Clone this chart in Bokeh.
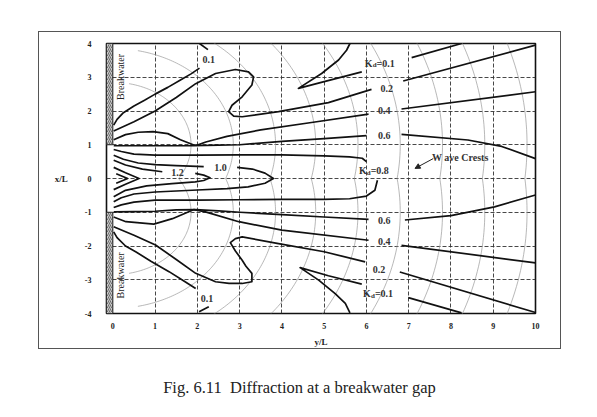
import numpy as np
from bokeh.plotting import figure
from bokeh.layouts import column
from bokeh.models import Range1d, FixedTicker, Arrow, NormalHead, Div
from bokeh.core.properties import value
from bokeh.embed import file_html
from bokeh.resources import INLINE

# ---------------- data ----------------
x_ticks = [0, 1, 2, 3, 4, 5, 6, 7, 8, 9, 10]
y_ticks = [-4, -3, -2, -1, 0, 1, 2, 3, 4]
y_tick_labels = {-4: "-4", -3: "-3", -2: "-2", -1: "-1", 0: "0", 1: "1", 2: "2", 3: "3", 4: "4"}

# upper half contours
k01_up_a_x = [0.02, 0.1, 0.25, 0.5, 0.75, 1.0, 1.3, 1.6, 1.85, 2.05]
k01_up_a_y = [1.58, 1.75, 1.95, 2.15, 2.32, 2.5, 2.7, 2.92, 3.1, 3.27]
k01_up_b_x = [2.05, 2.25]
k01_up_b_y = [4.0, 3.82]
k01_up_c_x = [5.61, 5.53, 5.34, 4.94, 4.39, 5.0, 5.89]
k01_up_c_y = [4.0, 3.8, 3.51, 3.11, 2.67, 2.87, 3.16]
k01_up_d_x = [7.07, 8.25]
k01_up_d_y = [3.58, 4.0]
k02_up_x = [0.02, 0.5, 1.0, 1.5, 1.96, 2.43, 2.9, 3.21, 3.33, 3.29, 3.06, 2.82, 2.74, 2.86, 3.06, 3.92, 5.1, 6.12]
k02_up_y = [1.41, 1.68, 2.0, 2.4, 2.81, 3.11, 3.23, 3.16, 3.01, 2.77, 2.42, 2.17, 1.98, 1.85, 1.83, 1.98, 2.25, 2.64]
k02_up_r_x = [6.87, 10.0]
k02_up_r_y = [2.89, 3.95]
k04_up_x = [0.02, 0.3, 0.6, 0.95, 1.3, 1.6, 1.9, 2.0, 2.2, 2.7, 3.5, 4.7, 6.05]
k04_up_y = [1.15, 1.3, 1.37, 1.39, 1.33, 1.15, 1.0, 0.99, 1.08, 1.25, 1.44, 1.66, 1.91]
k04_up_r_x = [6.83, 10.0]
k04_up_r_y = [2.06, 2.57]
k06_up_x = [0.02, 0.5, 1.0, 1.5, 1.9, 2.5, 3.0, 4.0, 5.0, 6.0]
k06_up_y = [0.97, 0.97, 0.97, 0.97, 0.97, 0.99, 1.0, 1.1, 1.18, 1.27]
k06_up_r_x = [6.83, 8.4, 9.2, 10.0]
k06_up_r_y = [1.31, 1.14, 0.95, 0.59]
k08_up_x = [0.02, 0.2, 0.5, 1.0, 2.0, 3.0, 4.0, 5.0, 5.6, 5.9, 6.0]
k08_up_y = [0.86, 0.8, 0.72, 0.69, 0.69, 0.70, 0.70, 0.67, 0.64, 0.6, 0.5]
k10_a_x = [0.02, 0.25, 0.6, 1.0, 1.5, 2.15]
k10_a_y = [0.69, 0.57, 0.46, 0.41, 0.38, 0.35]
k10_b_x = [2.94, 3.3, 3.6, 3.8, 3.6, 3.2, 2.7, 2.0, 1.0, 0.5, 0.2, 0.02]
k10_b_y = [0.33, 0.28, 0.16, 0.0, -0.14, -0.25, -0.3, -0.34, -0.4, -0.46, -0.57, -0.69]
k12_a_x = [0.02, 0.3, 0.7, 1.17]
k12_a_y = [0.54, 0.4, 0.28, 0.2]
k12_b_x = [1.95, 2.15, 2.3, 2.15, 1.95, 1.4, 0.8, 0.3, 0.02]
k12_b_y = [0.15, 0.1, 0.02, -0.06, -0.1, -0.15, -0.22, -0.35, -0.54]
k14_x = [0.02, 0.3, 0.62, 0.3, 0.02]
k14_y = [0.33, 0.17, 0.0, -0.17, -0.33]
k16_x = [0.08, 0.35, 0.08]
k16_y = [0.14, 0.0, -0.14]

# lower half contours
k08_lo_x = [0.02, 0.2, 0.5, 1.0, 2.0, 3.0, 4.0, 5.0, 5.6, 6.0, 6.2, 6.26]
k08_lo_y = [-0.86, -0.78, -0.7, -0.64, -0.64, -0.63, -0.62, -0.62, -0.6, -0.52, -0.35, -0.05]
k06_lo_x = [0.02, 0.5, 1.0, 1.5, 1.96, 2.5, 3.0, 4.0, 5.0, 6.05]
k06_lo_y = [-0.99, -0.98, -0.97, -0.93, -0.92, -0.96, -1.0, -1.07, -1.14, -1.21]
k06_lo_r_x = [6.91, 8.0, 9.03, 10.0]
k06_lo_r_y = [-1.23, -1.1, -0.84, -0.49]
k04_lo_x = [0.02, 0.31, 0.97, 1.41, 1.92, 2.19, 2.98, 4.0, 6.05]
k04_lo_y = [-1.14, -1.28, -1.35, -1.19, -0.92, -0.99, -1.28, -1.53, -1.83]
k04_lo_r_x = [6.83, 10.0]
k04_lo_r_y = [-1.98, -2.5]
k02_lo_x = [0.02, 0.5, 1.01, 1.5, 1.96, 2.43, 2.75, 3.06, 3.29, 3.29, 3.15, 3.06, 2.9, 2.78, 2.9, 3.06, 3.92, 5.0, 5.97]
k02_lo_y = [-1.43, -1.68, -1.97, -2.4, -2.81, -3.06, -3.11, -3.11, -3.06, -2.81, -2.6, -2.42, -2.15, -1.9, -1.78, -1.73, -1.93, -2.17, -2.47]
k02_lo_r_x = [6.79, 10.0]
k02_lo_r_y = [-2.77, -3.97]
k01_lo_a_x = [0.02, 0.1, 0.3, 0.54, 0.9, 1.33, 1.7, 1.96]
k01_lo_a_y = [-1.58, -1.75, -2.0, -2.17, -2.45, -2.76, -3.05, -3.26]
k01_lo_b_x = [2.04, 2.27]
k01_lo_b_y = [-3.95, -3.8]
k01_lo_c_x = [5.61, 5.5, 5.26, 4.87, 4.43, 5.1, 5.89]
k01_lo_c_y = [-3.98, -3.7, -3.41, -3.01, -2.64, -2.88, -3.13]
k01_lo_d_x = [6.99, 8.25]
k01_lo_d_y = [-3.53, -3.98]

# wave crest radii (about the breakwater tips)
crest_radii = [1.85, 2.85, 3.85, 4.8, 5.8, 6.8, 7.8, 8.8, 9.8]

# contour labels
lab_x = [2.27, 2.23, 6.48, 6.42, 6.42, 6.42, 6.42, 6.3, 2.55, 1.53]
lab_y = [3.54, -3.56, 2.67, 2.02, 1.28, -1.25, -1.86, -2.69, 0.32, 0.17]
lab_t = ["0.1", "0.1", "0.2", "0.4", "0.6", "0.6", "0.4", "0.2", "1.0", "1.2"]
kd_x = [6.24, 6.2, 6.1]
kd_y = [3.41, -3.41, 0.23]
kd_t = ["=0.1", "=0.1", "=0.8"]

contours = [
    (k01_up_a_x, k01_up_a_y), (k01_up_b_x, k01_up_b_y), (k01_up_c_x, k01_up_c_y), (k01_up_d_x, k01_up_d_y),
    (k02_up_x, k02_up_y), (k02_up_r_x, k02_up_r_y), (k04_up_x, k04_up_y), (k04_up_r_x, k04_up_r_y),
    (k06_up_x, k06_up_y), (k06_up_r_x, k06_up_r_y), (k08_up_x, k08_up_y),
    (k10_a_x, k10_a_y), (k10_b_x, k10_b_y), (k12_a_x, k12_a_y), (k12_b_x, k12_b_y),
    (k14_x, k14_y), (k16_x, k16_y),
    (k08_lo_x, k08_lo_y), (k06_lo_x, k06_lo_y), (k06_lo_r_x, k06_lo_r_y), (k04_lo_x, k04_lo_y),
    (k04_lo_r_x, k04_lo_r_y), (k02_lo_x, k02_lo_y), (k02_lo_r_x, k02_lo_r_y),
    (k01_lo_a_x, k01_lo_a_y), (k01_lo_b_x, k01_lo_b_y), (k01_lo_c_x, k01_lo_c_y), (k01_lo_d_x, k01_lo_d_y),
]

SERIF = "Liberation Serif"
W, H = 523, 318

p = figure(width=W, height=H, x_range=Range1d(-0.15, 10), y_range=Range1d(-4, 4),
           output_backend="svg", toolbar_location=None,
           min_border_left=67, min_border_right=27, min_border_top=11, min_border_bottom=37)
p.background_fill_color = "white"
p.border_fill_color = "white"
p.outline_line_color = "#111111"
p.outline_line_width = 1.6
p.styles = {"border": "1.5px solid #555555"}

p.xaxis.ticker = FixedTicker(ticks=x_ticks)
p.yaxis.ticker = FixedTicker(ticks=y_ticks)
p.yaxis.major_label_overrides = y_tick_labels
for ax in (p.xaxis[0], p.yaxis[0]):
    ax.axis_line_color = None
    ax.major_tick_line_color = None
    ax.minor_tick_line_color = None
    ax.major_label_text_font = SERIF
    ax.major_label_text_font_size = "8px"
    ax.major_label_text_font_style = "bold"
    ax.major_label_text_color = "#222222"
    ax.axis_label_text_font = SERIF
    ax.axis_label_text_font_size = "9px"
    ax.axis_label_text_font_style = "bold"
    ax.axis_label_text_color = "#222222"
p.xaxis.major_label_standoff = 3
p.yaxis.major_label_standoff = 9
p.xaxis.axis_label = "y/L"
p.xaxis.axis_label_standoff = 5
p.yaxis.axis_label = "x/L"
p.yaxis.axis_label_orientation = "horizontal"
p.yaxis.axis_label_standoff = 14

p.xgrid.ticker = FixedTicker(ticks=[1, 2, 3, 4, 5, 6, 7, 8, 9])
p.ygrid.ticker = FixedTicker(ticks=[-3, -2, -1, 0, 1, 2, 3])
for g in (p.xgrid[0], p.ygrid[0]):
    g.grid_line_color = "#333333"
    g.grid_line_width = 0.9
    g.grid_line_dash = "4 2"

# wave crests
arc_xs, arc_ys = [], []
for r in crest_radii:
    th = np.linspace(-np.arcsin(1.0 / r), np.radians(78), 90)
    arc_xs.append(r * np.cos(th)); arc_ys.append(1 + r * np.sin(th))
    arc_xs.append(r * np.cos(th)); arc_ys.append(-1 - r * np.sin(th))
p.multi_line(arc_xs, arc_ys, line_color="#9a9a9a", line_width=0.7)

# contours
p.multi_line([c[0] for c in contours], [c[1] for c in contours],
             line_color="#111111", line_width=1.7, line_join="round")

# breakwaters
p.quad(left=[-0.15, -0.15], right=[0, 0], bottom=[1, -4], top=[4, -1],
       fill_color="#c8c8c8", hatch_pattern="right_diagonal_line", hatch_color="#555555",
       hatch_scale=4, hatch_weight=0.8, line_color="#222222", line_width=1)
p.text(x=[0.17, 0.17], y=[3.01, -2.87], text=["Breakwater", "Breakwater"], angle=np.pi / 2,
       text_align="center", text_baseline="middle", text_font=value(SERIF),
       text_font_size="10px", text_color="#222222")

# labels
p.text(x=lab_x, y=lab_y, text=lab_t, text_align="center", text_baseline="middle",
       text_font=value(SERIF), text_font_size="10px", text_font_style="bold", text_color="#333333")
p.text(x=kd_x, y=kd_y, text=kd_t, text_align="left", text_baseline="middle",
       text_font=value(SERIF), text_font_size="10px", text_font_style="bold", text_color="#333333")
p.text(x=kd_x, y=kd_y, text=["d"] * 3, text_align="right", text_baseline="middle", y_offset=2,
       text_font=value(SERIF), text_font_size="7px", text_font_style="bold", text_color="#333333")
p.text(x=kd_x, y=kd_y, text=["K"] * 3, text_align="right", text_baseline="middle", x_offset=-4,
       text_font=value(SERIF), text_font_size="10px", text_font_style="bold", text_color="#333333")
p.text(x=[8.25], y=[0.62], text=["W ave  Crests"], text_align="center", text_baseline="middle",
       text_font=value(SERIF), text_font_size="10px", text_font_style="bold", text_color="#333333")
p.add_layout(Arrow(end=NormalHead(size=5, fill_color="#222222", line_color="#222222"),
                   x_start=7.58, y_start=0.59, x_end=7.15, y_end=0.30,
                   line_color="#222222", line_width=1))

caption = Div(text="Fig. 6.11&nbsp; Diffraction at a breakwater gap", width=W, height=22,
              margin=(29, 0, 0, 0),
              styles={"text-align": "center", "font-family": SERIF, "font-size": "16.5px",
                      "line-height": "20px", "color": "#222222", "width": f"{W}px"})

layout = column(p, caption, margin=(31, 0, 0, 38))
open("out.html", "w").write(file_html(layout, INLINE))
